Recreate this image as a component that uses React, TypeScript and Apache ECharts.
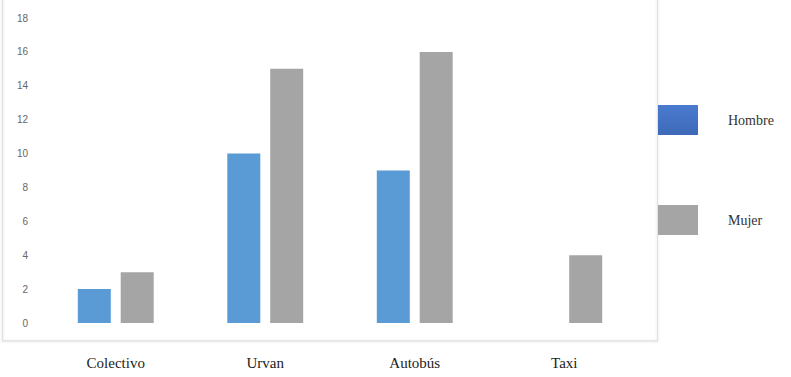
import React, { useEffect, useRef } from "react";
import * as echarts from "echarts";

const categories = ["Colectivo", "Urvan", "Autobús", "Taxi"];
const hombre = [2, 10, 9, 0];
const mujer = [3, 15, 16, 4];
const yTicks = { min: 0, max: 18, interval: 2 };

export default function App() {
  const ref = useRef<HTMLDivElement>(null);

  useEffect(() => {
    if (!ref.current) return;
    const chart = echarts.init(ref.current, null, { renderer: "svg" });
    chart.setOption({
      animation: false,
      backgroundColor: "#ffffff",
      graphic: [
        {
          type: "rect",
          shape: { x: 2.5, y: -6, width: 655, height: 347 },
          style: {
            fill: "none",
            stroke: "#e2e2e2",
            lineWidth: 1.5,
            shadowBlur: 3,
            shadowColor: "rgba(0,0,0,0.08)",
          },
          z: -1,
        },
      ],
      legend: {
        orient: "vertical",
        left: 653,
        top: 100,
        itemWidth: 40,
        itemHeight: 30,
        itemGap: 70,
        icon: "rect",
        textStyle: {
          fontFamily: "Liberation Serif",
          fontSize: 14,
          color: "#333333",
          padding: [0, 0, 0, 25],
        },
        data: [
          {
            name: "Hombre",
            itemStyle: {
              color: new echarts.graphic.LinearGradient(0, 0, 0, 1, [
                { offset: 0, color: "#4a7bd0" },
                { offset: 1, color: "#3e69b8" },
              ]),
            },
          },
          { name: "Mujer", itemStyle: { color: "#a5a5a5" } },
        ],
      },
      grid: { left: 41, width: 598, top: 18, bottom: 54 },
      xAxis: {
        type: "category",
        data: categories,
        axisLine: { show: false },
        axisTick: { show: false },
        axisLabel: {
          margin: 32,
          fontFamily: "Liberation Serif",
          fontSize: 15,
          color: "#222222",
        },
      },
      yAxis: {
        type: "value",
        min: yTicks.min,
        max: yTicks.max,
        interval: yTicks.interval,
        axisLine: { show: false },
        axisTick: { show: false },
        splitLine: { show: false },
        axisLabel: {
          margin: 13,
          fontFamily: "Liberation Sans",
          fontSize: 10,
          color: "#666666",
        },
      },
      series: [
        {
          name: "Hombre",
          type: "bar",
          data: hombre,
          barWidth: 33,
          barGap: "30%",
          itemStyle: { color: "#5b9bd5" },
        },
        {
          name: "Mujer",
          type: "bar",
          data: mujer,
          barWidth: 33,
          barGap: "30%",
          itemStyle: { color: "#a5a5a5" },
        },
      ],
    });
    return () => chart.dispose();
  }, []);

  return (
    <div
      ref={ref}
      style={{ position: "fixed", left: 0, top: 0, width: 791, height: 377 }}
    />
  );
}
